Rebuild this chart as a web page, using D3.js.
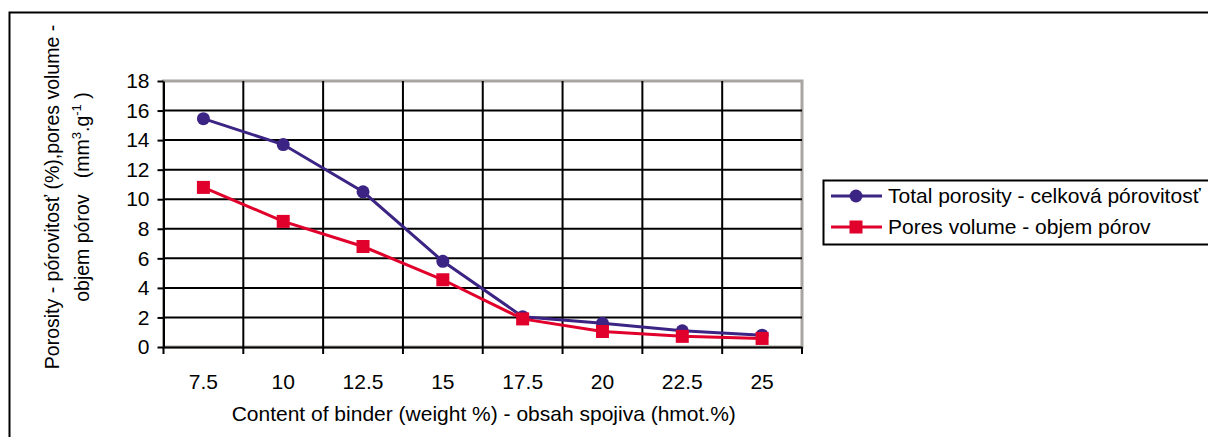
<!DOCTYPE html>
<html><head><meta charset="utf-8">
<script src="https://cdn.jsdelivr.net/npm/d3@7"></script>
<style>body{margin:0;background:#fff}svg{display:block}text{font-family:"Liberation Sans",Arial,sans-serif;fill:#000}</style>
</head><body><svg id="c" width="1208" height="437"></svg>
<script>
const categories = ["7.5","10","12.5","15","17.5","20","22.5","25"];
const totalPorosity = [15.45, 13.7, 10.5, 5.8, 2.05, 1.6, 1.1, 0.8];
const poresVolume = [10.8, 8.5, 6.8, 4.55, 1.9, 1.05, 0.72, 0.58];
const yTicks = [0,2,4,6,8,10,12,14,16,18];
const seriesNames = ["Total porosity - celková pórovitosť", "Pores volume - objem pórov"];
const colors = ["#3b2483", "#e0002b"];

const FF = "Liberation Sans, Arial, sans-serif";
const svg = d3.select("#c");
const L = 163.5, R = 802, T = 81, B = 347;
const x = d3.scaleBand().domain(categories).range([L, R]);
const y = d3.scaleLinear().domain([0, 18]).range([B, T]);

// outer border
svg.append("rect").attr("x",9.5).attr("y",12.5).attr("width",1300).attr("height",500)
  .attr("fill","none").attr("stroke","#000").attr("stroke-width",2);

// plot area border (gray)
svg.append("rect").attr("x",L).attr("y",T).attr("width",R-L).attr("height",B-T)
  .attr("fill","none").attr("stroke","#a9a5a1").attr("stroke-width",3);

// horizontal gridlines
svg.append("g").selectAll("line").data(yTicks.filter(d=>d>0&&d<18)).join("line")
  .attr("x1",L).attr("x2",R).attr("y1",d=>y(d)).attr("y2",d=>y(d))
  .attr("stroke","#000").attr("stroke-width",2);
// vertical gridlines at band boundaries
const bounds = categories.slice(1).map(c=>x(c));
svg.append("g").selectAll("line").data(bounds).join("line")
  .attr("x1",d=>d).attr("x2",d=>d).attr("y1",T).attr("y2",B)
  .attr("stroke","#000").attr("stroke-width",2);

// y axis
const yAxis = svg.append("g").attr("transform",`translate(${L},0)`)
  .call(d3.axisLeft(y).tickValues(yTicks).tickSize(6).tickPadding(8).tickSizeOuter(0));
yAxis.select(".domain").attr("stroke","#000").attr("stroke-width",2);
yAxis.selectAll(".tick line").attr("stroke","#000").attr("stroke-width",2);
yAxis.selectAll("text").attr("font-size",21).attr("font-family",FF);

// x axis
const xAxis = svg.append("g").attr("transform",`translate(0,${B})`)
  .call(d3.axisBottom(x).tickSize(0).tickPadding(27).tickSizeOuter(0));
xAxis.select(".domain").attr("stroke","#000").attr("stroke-width",2);
xAxis.selectAll(".tick line").remove();
xAxis.selectAll("text").attr("font-size",21).attr("font-family",FF);
svg.append("g").selectAll("line").data([L, ...bounds, R]).join("line")
  .attr("x1",d=>d).attr("x2",d=>d).attr("y1",B).attr("y2",B+7)
  .attr("stroke","#000").attr("stroke-width",2);

// lines
const line = d3.line().x((d,i)=>x(categories[i])+x.bandwidth()/2).y(d=>y(d));
[totalPorosity, poresVolume].forEach((s,k)=>{
  svg.append("path").datum(s).attr("d",line).attr("fill","none")
    .attr("stroke",colors[k]).attr("stroke-width",3);
});
// markers
svg.append("g").selectAll("circle").data(totalPorosity).join("circle")
  .attr("cx",(d,i)=>x(categories[i])+x.bandwidth()/2).attr("cy",d=>y(d)).attr("r",6.5)
  .attr("fill",colors[0]);
svg.append("g").selectAll("rect").data(poresVolume).join("rect")
  .attr("x",(d,i)=>x(categories[i])+x.bandwidth()/2-6.5).attr("y",d=>y(d)-6.5)
  .attr("width",13).attr("height",13).attr("fill",colors[1]);

// axis titles
svg.append("text").attr("x",(L+R)/2+1).attr("y",421).attr("text-anchor","middle")
  .attr("font-size",21).text("Content of binder (weight %) - obsah spojiva (hmot.%)");
const yt = svg.append("text").attr("transform","translate(59,197) rotate(-90)")
  .attr("text-anchor","middle").attr("font-size",19.5);
yt.append("tspan").attr("x",0).attr("dy",0).text("Porosity - pórovitosť (%),pores volume -");
const l2 = yt.append("tspan").attr("x",0).attr("dy",30);
l2.append("tspan").text("objem pórov\u00a0\u00a0\u00a0(mm");
l2.append("tspan").attr("dy",-8).attr("font-size",13).text("3");
l2.append("tspan").attr("dy",8).text(".g");
l2.append("tspan").attr("dy",-8).attr("font-size",13).text("-1");
l2.append("tspan").attr("dy",8).text("\u00a0)");

// legend
svg.append("rect").attr("x",823.5).attr("y",180.5).attr("width",420).attr("height",64)
  .attr("fill","#fff").attr("stroke","#000").attr("stroke-width",2);
seriesNames.forEach((n,k)=>{
  const cy = 196 + k*31;
  svg.append("line").attr("x1",831).attr("x2",882).attr("y1",cy).attr("y2",cy)
    .attr("stroke",colors[k]).attr("stroke-width",3);
  if(k===0) svg.append("circle").attr("cx",856).attr("cy",cy).attr("r",6.5).attr("fill",colors[0]);
  else svg.append("rect").attr("x",849.5).attr("y",cy-6.5).attr("width",13).attr("height",13).attr("fill",colors[1]);
  svg.append("text").attr("x",888).attr("y",cy+7).attr("font-size",21).text(n);
});
</script></body></html>
